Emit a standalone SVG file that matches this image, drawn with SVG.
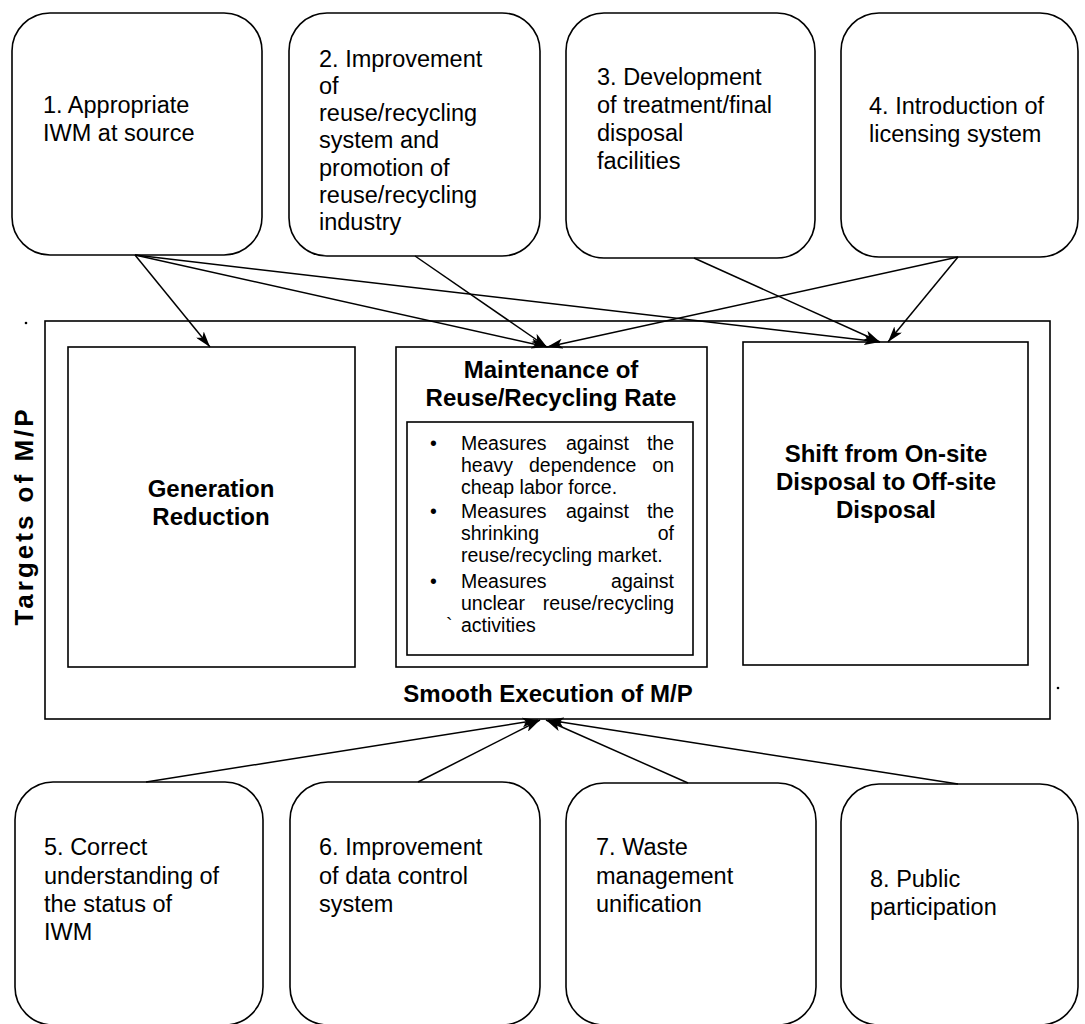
<svg xmlns="http://www.w3.org/2000/svg" width="1085" height="1024" viewBox="0 0 1085 1024">
<defs>
<style>
.box{fill:#fff;stroke:#000;stroke-width:1.6}
.t{font-family:"Liberation Sans",Arial,sans-serif;font-size:23.5px;fill:#000}
.b{font-family:"Liberation Sans",Arial,sans-serif;font-size:24px;font-weight:bold;fill:#000}
.s{font-family:"Liberation Sans",Arial,sans-serif;font-size:19.5px;fill:#000}
.c{stroke:#000;stroke-width:1.5;fill:none;marker-end:url(#ah)}
</style>
<marker id="ah" viewBox="0 0 16 10" refX="16" refY="5" markerWidth="16" markerHeight="10" markerUnits="userSpaceOnUse" orient="auto">
<path d="M0,0 L16,5 L0,10 L4,5 Z" fill="#000"/>
</marker>
</defs>
<rect width="1085" height="1024" fill="#fff"/>

<g id="n1">
<rect class="box" x="12" y="13" width="250" height="242" rx="38"/>
<text class="t"><tspan x="43" y="113">1. Appropriate</tspan><tspan x="43" y="141">IWM at source</tspan></text>
</g>
<g id="n2">
<rect class="box" x="289" y="13" width="251" height="243" rx="38"/>
<text class="t"><tspan x="319" y="67">2. Improvement</tspan><tspan x="319" y="94">of</tspan><tspan x="319" y="121">reuse/recycling</tspan><tspan x="319" y="148">system and</tspan><tspan x="319" y="176">promotion of</tspan><tspan x="319" y="203">reuse/recycling</tspan><tspan x="319" y="230">industry</tspan></text>
</g>
<g id="n3">
<rect class="box" x="566" y="13" width="249" height="245" rx="38"/>
<text class="t"><tspan x="597" y="85">3. Development</tspan><tspan x="597" y="113">of treatment/final</tspan><tspan x="597" y="141">disposal</tspan><tspan x="597" y="169">facilities</tspan></text>
</g>
<g id="n4">
<rect class="box" x="841" y="13" width="237" height="244" rx="38"/>
<text class="t"><tspan x="869" y="114">4. Introduction of</tspan><tspan x="869" y="142">licensing system</tspan></text>
</g>

<g id="targets">
<rect class="box" x="45" y="321" width="1005" height="398"/>
<text style="font-family:'Liberation Sans',Arial,sans-serif;font-size:26px;font-weight:bold" text-anchor="middle" letter-spacing="3" transform="translate(33,516) rotate(-90)">Targets of M/P</text>
<text class="b" x="548" y="702" text-anchor="middle">Smooth Execution of M/P</text>
<circle cx="26" cy="323" r="1.3" fill="#000"/>
<circle cx="1058" cy="688" r="1.3" fill="#000"/>
</g>

<g id="genred">
<rect class="box" x="68" y="347" width="287" height="320"/>
<text class="b" text-anchor="middle"><tspan x="211" y="497">Generation</tspan><tspan x="211" y="525">Reduction</tspan></text>
</g>

<g id="maint">
<rect class="box" x="396" y="347" width="311" height="320"/>
<text class="b" text-anchor="middle"><tspan x="551" y="378">Maintenance of</tspan><tspan x="551" y="406">Reuse/Recycling Rate</tspan></text>
<rect class="box" x="407" y="422" width="286" height="233"/>
<g class="s">
<text x="430" y="450">•</text>
<text x="461" y="450">Measures</text><text x="566" y="450">against</text><text x="674" y="450" text-anchor="end">the</text>
<text x="461" y="472">heavy</text><text x="529" y="472">dependence</text><text x="674" y="472" text-anchor="end">on</text>
<text x="461" y="494">cheap labor force.</text>
<text x="430" y="518">•</text>
<text x="461" y="518">Measures</text><text x="566" y="518">against</text><text x="674" y="518" text-anchor="end">the</text>
<text x="461" y="540">shrinking</text><text x="674" y="540" text-anchor="end">of</text>
<text x="461" y="562">reuse/recycling market.</text>
<text x="430" y="588">•</text>
<text x="461" y="588">Measures</text><text x="674" y="588" text-anchor="end">against</text>
<text x="461" y="610">unclear</text><text x="674" y="610" text-anchor="end">reuse/recycling</text>
<text x="446" y="632">`</text>
<text x="461" y="632">activities</text>
</g>
</g>

<g id="shift">
<rect class="box" x="743" y="342" width="285" height="323"/>
<text class="b" text-anchor="middle"><tspan x="886" y="462">Shift from On-site</tspan><tspan x="886" y="490">Disposal to Off-site</tspan><tspan x="886" y="518">Disposal</tspan></text>
</g>

<g id="n5">
<rect class="box" x="15" y="782" width="248" height="243" rx="38"/>
<text class="t"><tspan x="44" y="855">5. Correct</tspan><tspan x="44" y="884">understanding of</tspan><tspan x="44" y="912">the status of</tspan><tspan x="44" y="940">IWM</tspan></text>
</g>
<g id="n6">
<rect class="box" x="290" y="782" width="250" height="243" rx="38"/>
<text class="t"><tspan x="319" y="855">6. Improvement</tspan><tspan x="319" y="884">of data control</tspan><tspan x="319" y="912">system</tspan></text>
</g>
<g id="n7">
<rect class="box" x="566" y="783" width="250" height="242" rx="38"/>
<text class="t"><tspan x="596" y="855">7. Waste</tspan><tspan x="596" y="884">management</tspan><tspan x="596" y="912">unification</tspan></text>
</g>
<g id="n8">
<rect class="box" x="841" y="784" width="237" height="241" rx="38"/>
<text class="t"><tspan x="870" y="887">8. Public</tspan><tspan x="870" y="915">participation</tspan></text>
</g>

<g id="connectors">
<line class="c" x1="135" y1="255" x2="210" y2="347"/>
<line class="c" x1="135" y1="255" x2="547" y2="347"/>
<line class="c" x1="135" y1="255" x2="880" y2="342"/>
<line class="c" x1="415" y1="256" x2="547" y2="347"/>
<line class="c" x1="694" y1="258" x2="880" y2="342"/>
<line class="c" x1="958" y1="257" x2="547" y2="347"/>
<line class="c" x1="958" y1="257" x2="888" y2="342"/>
<line class="c" x1="146" y1="782" x2="538" y2="720"/>
<line class="c" x1="418" y1="782" x2="540" y2="720"/>
<line class="c" x1="688" y1="783" x2="546" y2="720"/>
<line class="c" x1="958" y1="784" x2="548" y2="720"/>
</g>
</svg>
